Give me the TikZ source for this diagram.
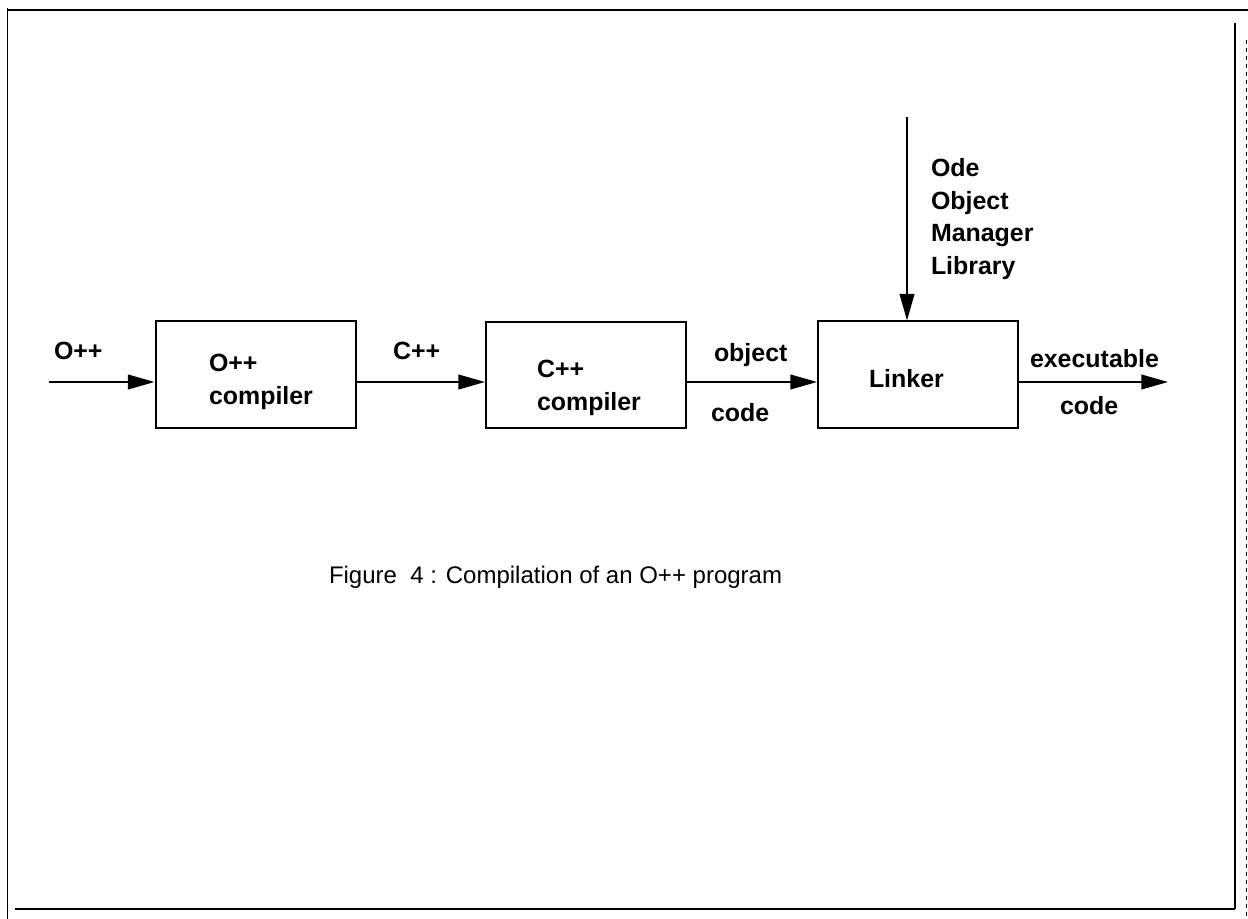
\documentclass[tikz,border=0pt]{standalone}
\usepackage{fontspec}
\setmainfont{Liberation Sans}
\usetikzlibrary{arrows.meta}

\tikzset{every picture/.style={line width=1.5pt}}

\begin{document}
\begin{tikzpicture}[x=0.75pt,y=0.75pt,yscale=-1,xscale=1,
    box/.style={draw, minimum width=150pt, minimum height=79.5pt, inner sep=0pt},
    lbl/.style={anchor=west, inner sep=0pt, align=left, font=\fontsize{18.7}{24.5}\selectfont\bfseries},
    flow/.style={-{Triangle[length=20pt,width=11pt]}}]
        \useasboundingbox (0,0) rectangle (1248,919);

        % page frame
        \draw (8,10) -- (1248,10);
        \draw [line width=0.6pt] (7,8) -- (7,919);
        \draw [line width=2pt] (15,909) -- (1235,909);
        \draw (1235,23) -- (1235,909);
        \draw [line width=0.5pt, dashed] (1246,40) -- (1246,919);

        % the three stages
        \node [box] (occ) at (255.5,374.5) {};
        \node [box] (cxx) at (586,375) {};
        \node [box] (ld) at (918,374.5) {};

        \coordinate (src) at (49,382);
        \coordinate (exe) at (1168,382);
        \coordinate (lib) at (907,117);

        \draw [flow] (src) -- (src -| occ.west);
        \draw [flow] (occ.east |- src) -- (cxx.west |- src);
        \draw [flow] (cxx.east |- src) -- (ld.west |- src);
        \draw [flow] (ld.east |- src) -- (exe);
        \draw [flow] (lib) -- (lib |- ld.north);

        \node [lbl] (inlbl) at (53,351) {O++};
        \node [lbl] (occtxt) at (208,382) {O++\\compiler};
        \node [lbl] (cpplbl) at (392,351) {C++};
        \node [lbl] (cxxtxt) at (536,388) {C++\\compiler};
        \node [lbl] (objlbl) at (713,355) {object};
        \node [lbl] (objcode) at (710,413) {code};
        \node [lbl] (ldtxt) at (868,379) {Linker};
        \node [lbl] (exelbl) at (1029,359) {executable};
        \node [lbl] (execode) at (1059,406) {code};
        \node [lbl] (liblbl) at (930,219) {Ode\\Object\\Manager\\Library};

        \node [anchor=west, inner sep=0pt, font=\fontsize{18}{22}\selectfont] (caption) at (328,577) {Figure\ \ 4 : Compilation of an O++ program};
\end{tikzpicture}
\end{document}
